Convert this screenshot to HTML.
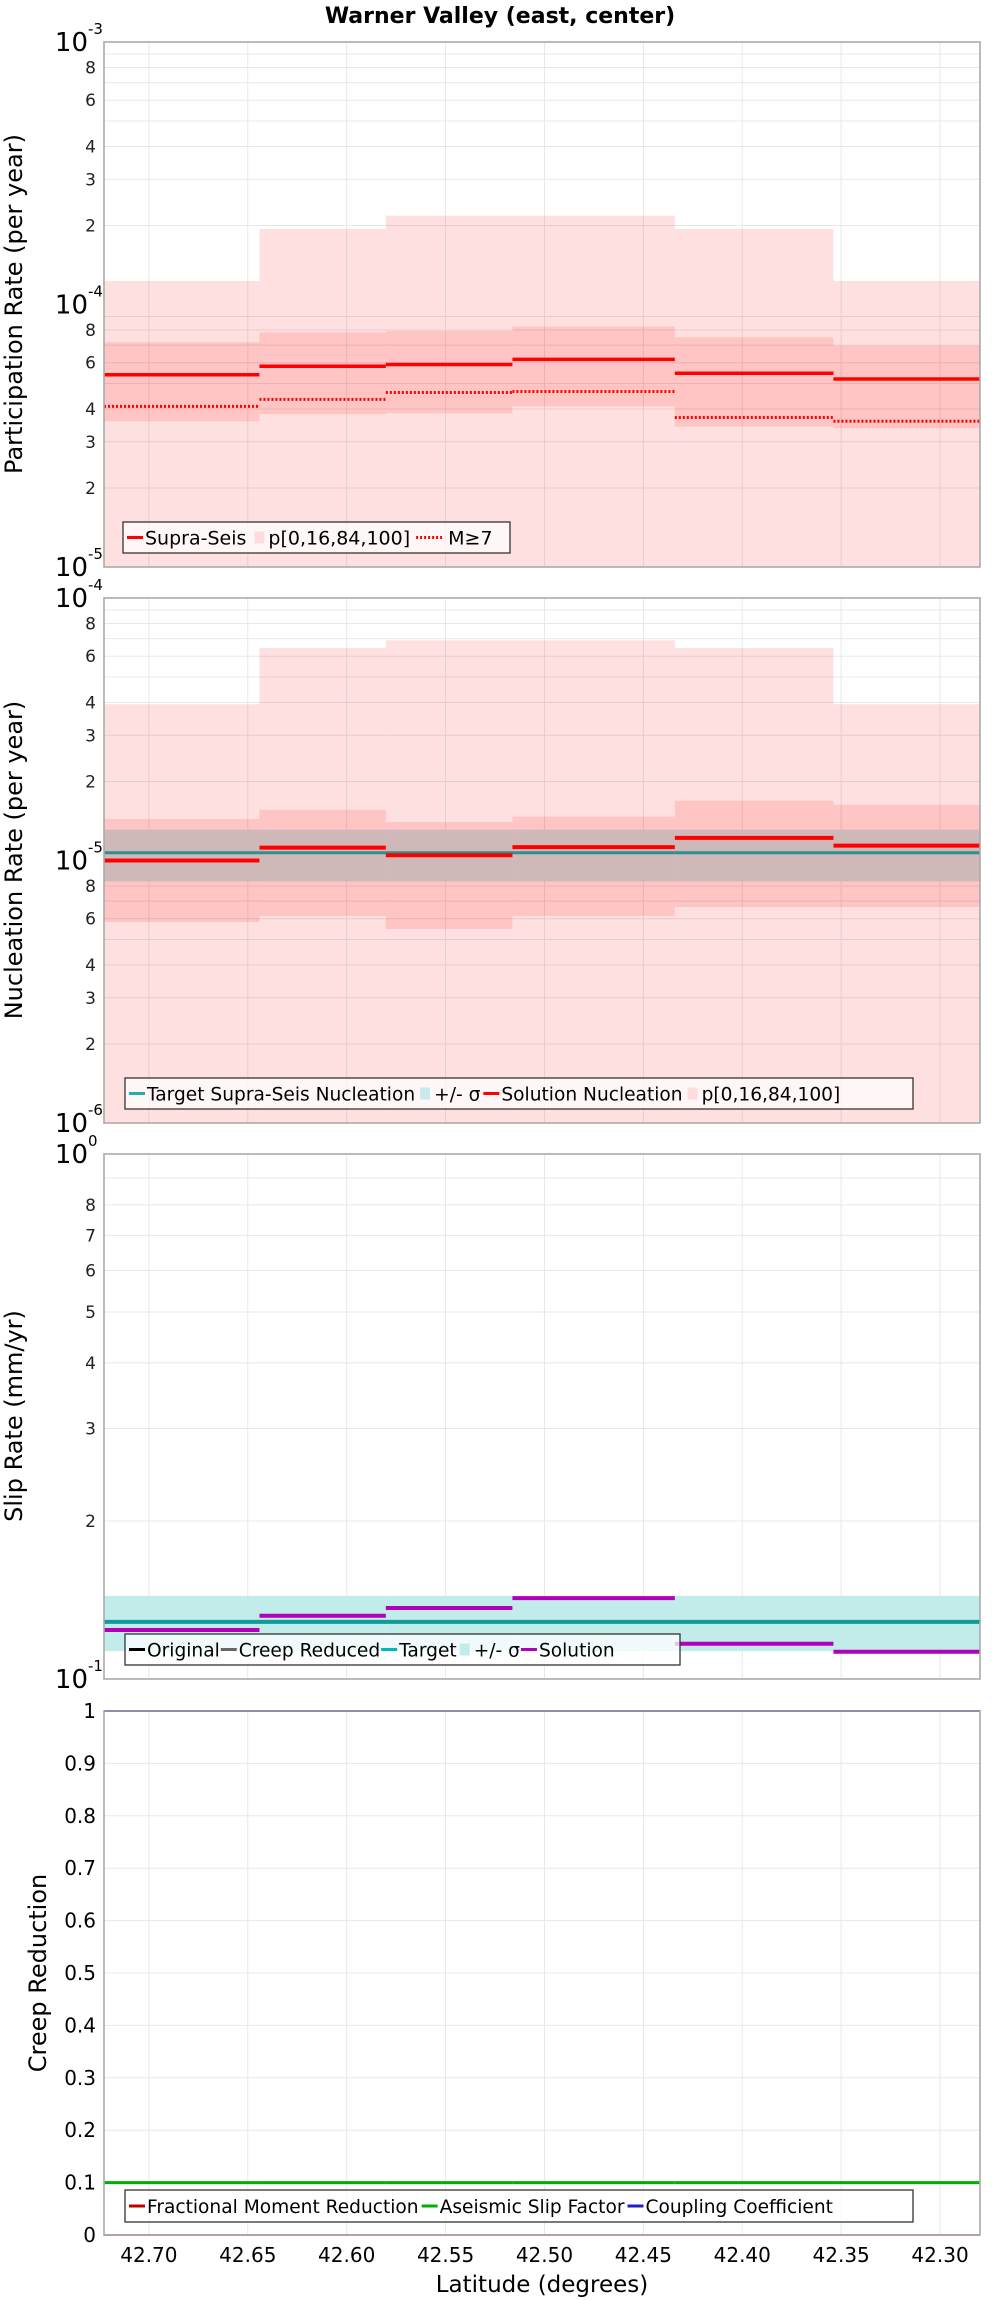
<!DOCTYPE html>
<html><head><meta charset="utf-8"><style>
html,body{margin:0;padding:0;background:#fff;}
svg{display:block;font-family:"DejaVu Sans","Liberation Sans",sans-serif;}
</style></head><body>
<svg id="chart" width="1000" height="2300" viewBox="0 0 1000 2300" xmlns="http://www.w3.org/2000/svg">
<text x="500" y="23" text-anchor="middle" font-size="22" font-weight="bold">Warner Valley (east, center)</text>
</svg>
<script>
// Section boundaries (latitude) and x tick labels
const sectionEdges = [42.7227, 42.6441, 42.5802, 42.5162, 42.4341, 42.3539, 42.2798];
const xTicks = ["42.70","42.65","42.60","42.55","42.50","42.45","42.40","42.35","42.30"];
// Panel 1: participation rate
const partP100 = [1.23e-4, 1.94e-4, 2.18e-4, 2.18e-4, 1.94e-4, 1.23e-4];
const partP84 = [7.18e-5, 7.83e-5, 7.93e-5, 8.24e-5, 7.5e-5, 6.98e-5];
const partP16 = [3.59e-5, 3.82e-5, 3.85e-5, 4.09e-5, 3.43e-5, 3.38e-5];
const partSupra = [5.4e-5, 5.82e-5, 5.91e-5, 6.18e-5, 5.47e-5, 5.2e-5];
const partM7 = [4.09e-5, 4.35e-5, 4.62e-5, 4.66e-5, 3.71e-5, 3.59e-5];
// Panel 2: nucleation rate
const nuclP100 = [3.94e-5, 6.45e-5, 6.9e-5, 6.9e-5, 6.45e-5, 3.94e-5];
const nuclP84 = [1.44e-5, 1.56e-5, 1.40e-5, 1.47e-5, 1.69e-5, 1.63e-5];
const nuclP16 = [5.83e-6, 6.15e-6, 5.48e-6, 6.15e-6, 6.65e-6, 6.65e-6];
const nuclTarget = [1.07e-5, 1.07e-5, 1.07e-5, 1.07e-5, 1.07e-5, 1.07e-5];
const nuclSigHi = [1.31e-5, 1.31e-5, 1.31e-5, 1.31e-5, 1.31e-5, 1.31e-5];
const nuclSigLo = [8.32e-6, 8.32e-6, 8.32e-6, 8.32e-6, 8.32e-6, 8.32e-6];
const nuclSolution = [1.0e-5, 1.12e-5, 1.047e-5, 1.125e-5, 1.22e-5, 1.14e-5];
// Panel 3: slip rate
const slipOriginal = [0.1285, 0.1285, 0.1285, 0.1285, 0.1285, 0.1285];
const slipTarget = [0.1285, 0.1285, 0.1285, 0.1285, 0.1285, 0.1285];
const slipSigHi = [0.144, 0.144, 0.144, 0.144, 0.144, 0.144];
const slipSigLo = [0.113, 0.113, 0.113, 0.113, 0.113, 0.113];
const slipSolution = [0.124, 0.132, 0.1365, 0.1426, 0.1167, 0.1127];
// Panel 4: creep reduction
const creepFMR = [0, 0, 0, 0, 0, 0];
const creepAseismic = [0.1, 0.1, 0.1, 0.1, 0.1, 0.1];
const creepCoupling = [1, 1, 1, 1, 1, 1];

const NS = "http://www.w3.org/2000/svg";
const svg = document.getElementById("chart");
const L = 104, R = 980;
function x(lat){ return L + (sectionEdges[0]-lat)/(sectionEdges[0]-sectionEdges[6])*(R-L); }
function mk(tag, attrs, parent){
  const e = document.createElementNS(NS, tag);
  for (const k in attrs) e.setAttribute(k, attrs[k]);
  (parent||svg).appendChild(e); return e;
}
function panel(top, bottom, lmin, lmax, log){
  return {top, bottom, y: v => {
    let t = log ? (Math.log10(Math.max(v,1e-12))-lmin)/(lmax-lmin) : (v-lmin)/(lmax-lmin);
    return bottom - t*(bottom-top);
  }};
}
const P = [panel(42,567,-5,-3,true), panel(598,1123,-6,-4,true), panel(1154,1679,-1,0,true), panel(1711,2235,0,1,false)];

function frameAndGrid(p, idx, log, lmin, lmax, minorLabels){
  const g = mk("g", {});
  
  
  const xl = [42.70,42.65,42.60,42.55,42.50,42.45,42.40,42.35,42.30];
  xl.forEach(v => mk("line",{x1:x(v),x2:x(v),y1:p.top,y2:p.bottom,stroke:"#e8e8e8","stroke-width":1},g));
  if (log){
    for (let d=lmin; d<lmax; d++){
      for (let m=1; m<=9; m++){
        const v = m*Math.pow(10,d); const yy = p.y(v);
        if (m>1) mk("line",{x1:L,x2:R,y1:yy,y2:yy,stroke:"#e8e8e8","stroke-width":1},g);
        if (minorLabels.includes(m)){
          const t = mk("text",{x:96,y:yy+6,"text-anchor":"end","font-size":17,fill:"#222"});
          t.textContent = String(m);
          
          
        }
      }
    }
    for (let d=lmin; d<=lmax; d++){
      const yy = p.y(Math.pow(10,d));
      const t = mk("text",{x:88,y:yy+9,"text-anchor":"end","font-size":26,fill:"#000"});
      t.textContent = "10";
      
      
      const s = mk("text",{x:88,y:yy-8,"text-anchor":"start","font-size":15,fill:"#000"});
      s.textContent = String(d);
      
      
    }
  } else {
    for (let i=0;i<=10;i++){
      const v = i/10; const yy = p.y(v);
      mk("line",{x1:L,x2:R,y1:yy,y2:yy,stroke:"#e8e8e8","stroke-width":1},g);
      const t = mk("text",{x:96,y:yy+7,"text-anchor":"end","font-size":20,fill:"#000"});
      t.textContent = (i===0?"0":(i===10?"1":v.toFixed(1)));
      
      
    }
  }
}
function border(p, idx){
  const r = mk("rect",{x:L,y:p.top,width:R-L,height:p.bottom-p.top,fill:"none",stroke:"#aaa","stroke-width":1.6});
  
  
}
function clamp(p, yy){ return Math.max(p.top, Math.min(p.bottom, yy)); }
function bands(p, hi, lo, fill, name){
  hi.forEach((v,i)=>{
    const y1 = clamp(p, p.y(v)), y2 = clamp(p, lo ? p.y(lo[i]) : p.bottom);
    const r = mk("rect",{x:x(sectionEdges[i]),y:y1,width:x(sectionEdges[i+1])-x(sectionEdges[i]),height:Math.max(0,y2-y1),fill:fill});
    
    
  });
}
function steps(p, vals, color, w, name, dash){
  vals.forEach((v,i)=>{
    const yy = clamp(p, p.y(v));
    const a = {x1:x(sectionEdges[i]),x2:x(sectionEdges[i+1]),y1:yy,y2:yy,stroke:color,"stroke-width":w};
    if (dash) a["stroke-dasharray"] = dash;
    const l = mk("line",a);
    
    
  });
}
function legend(x0, y0, x1, y1, items, name, fs){
  const g = mk("g",{});
  
  
  mk("rect",{x:x0,y:y0,width:x1-x0,height:y1-y0,fill:"rgba(255,255,255,0.75)",stroke:"#333","stroke-width":1.3},g);
  let cx = x0+4; const cy = (y0+y1)/2;
  items.forEach(it=>{
    const ig = mk("g",{},g);
    
    
    if (it.type==="box") mk("rect",{x:cx+2,y:cy-6,width:10,height:12,fill:it.color},ig);
    else { const a={x1:cx,x2:cx+(it.dash?28:16),y1:cy,y2:cy,stroke:it.color,"stroke-width":3}; if(it.dash)a["stroke-dasharray"]="2,2"; mk("line",a,ig); }
    cx += it.type==="box" ? 16 : (it.dash?32:18);
    const t = mk("text",{x:cx,y:cy+7,"font-size":fs||19,fill:"#000"},ig);
    t.textContent = it.label;
    cx += t.getComputedTextLength() + it.gap;
  });
}
function yTitle(text, cx, cy, name){
  const t = mk("text",{x:cx,y:cy,"text-anchor":"middle","font-size":24,fill:"#000",transform:`rotate(-90 ${cx} ${cy})`});
  t.textContent = text;
  
  
}

// Panel 1
frameAndGrid(P[0],0,true,-5,-3,[2,3,4,6,8]);
bands(P[0], partP100, null, "rgba(255,0,0,0.12)", "band-p0-100");
bands(P[0], partP84, partP16, "rgba(255,0,0,0.12)", "band-p16-84");
steps(P[0], partSupra, "#ff0000", 3.5, "supra-seis-line");
steps(P[0], partM7, "#ff0000", 3, "m7-line", "2,2");
border(P[0],0);
legend(123,522,510,553,[{label:"Supra-Seis",color:"#ff0000",gap:6},{label:"p[0,16,84,100]",color:"#fcdcdc",type:"box",gap:6},{label:"M≥7",color:"#ff0000",dash:true,gap:0}],"legend-participation",19);
yTitle("Participation Rate (per year)", 22, 304, "y-axis-title-participation");

// Panel 2
frameAndGrid(P[1],1,true,-6,-4,[2,3,4,6,8]);
bands(P[1], nuclP100, null, "rgba(255,0,0,0.12)", "band-p0-100");
bands(P[1], nuclP84, nuclP16, "rgba(255,0,0,0.12)", "band-p16-84");
bands(P[1], nuclSigHi, nuclSigLo, "#cfb8b8", "band-sigma");
steps(P[1], nuclTarget, "#2a9090", 3, "target-nucleation-line");
steps(P[1], nuclSolution, "#ff0000", 4, "solution-nucleation-line");
border(P[1],1);
legend(125,1078,913,1109,[{label:"Target Supra-Seis Nucleation",color:"#20b0b0",gap:3},{label:"+/- σ",color:"#c8eaea",type:"box",gap:3},{label:"Solution Nucleation",color:"#ff0000",gap:3},{label:"p[0,16,84,100]",color:"#fcdcdc",type:"box",gap:0}],"legend-nucleation",18.6);
yTitle("Nucleation Rate (per year)", 22, 860, "y-axis-title-nucleation");

// Panel 3
frameAndGrid(P[2],2,true,-1,0,[2,3,4,5,6,7,8]);
bands(P[2], slipSigHi, slipSigLo, "#c2ecea", "band-sigma");
steps(P[2], slipOriginal, "#000", 3, "original-line");
steps(P[2], slipOriginal, "#666", 3, "creep-reduced-line");
steps(P[2], slipTarget, "#119a9a", 4, "target-line");
steps(P[2], slipSolution, "#b000b8", 4, "solution-line");
border(P[2],2);
legend(125,1634,680,1665,[{label:"Original",color:"#000",gap:1},{label:"Creep Reduced",color:"#666",gap:1},{label:"Target",color:"#00b8b8",gap:1},{label:"+/- σ",color:"#c2ecea",type:"box",gap:1},{label:"Solution",color:"#b000b8",gap:0}],"legend-slip",18.6);
yTitle("Slip Rate (mm/yr)", 22, 1416, "y-axis-title-slip");

// Panel 4
frameAndGrid(P[3],3,false,0,1,[]);
steps(P[3], creepFMR, "#c00000", 1.5, "fractional-moment-reduction-line");
steps(P[3], creepAseismic, "#00b000", 3, "aseismic-slip-factor-line");
steps(P[3], creepCoupling, "#2020c0", 2, "coupling-coefficient-line");
border(P[3],3);
legend(125,2190,913,2222,[{label:"Fractional Moment Reduction",color:"#c00000",gap:3},{label:"Aseismic Slip Factor",color:"#00b000",gap:3},{label:"Coupling Coefficient",color:"#2020c0",gap:0}],"legend-creep",18.6);
yTitle("Creep Reduction", 46, 1973, "y-axis-title-creep");

// X axis labels
xTicks.forEach(s=>{
  const t = mk("text",{x:x(parseFloat(s)),y:2262,"text-anchor":"middle","font-size":20,fill:"#000"});
  t.textContent = s;
  
  
});
const xt = mk("text",{x:542,y:2292,"text-anchor":"middle","font-size":23,fill:"#000"});
xt.textContent = "Latitude (degrees)";


</script>
</body></html>
